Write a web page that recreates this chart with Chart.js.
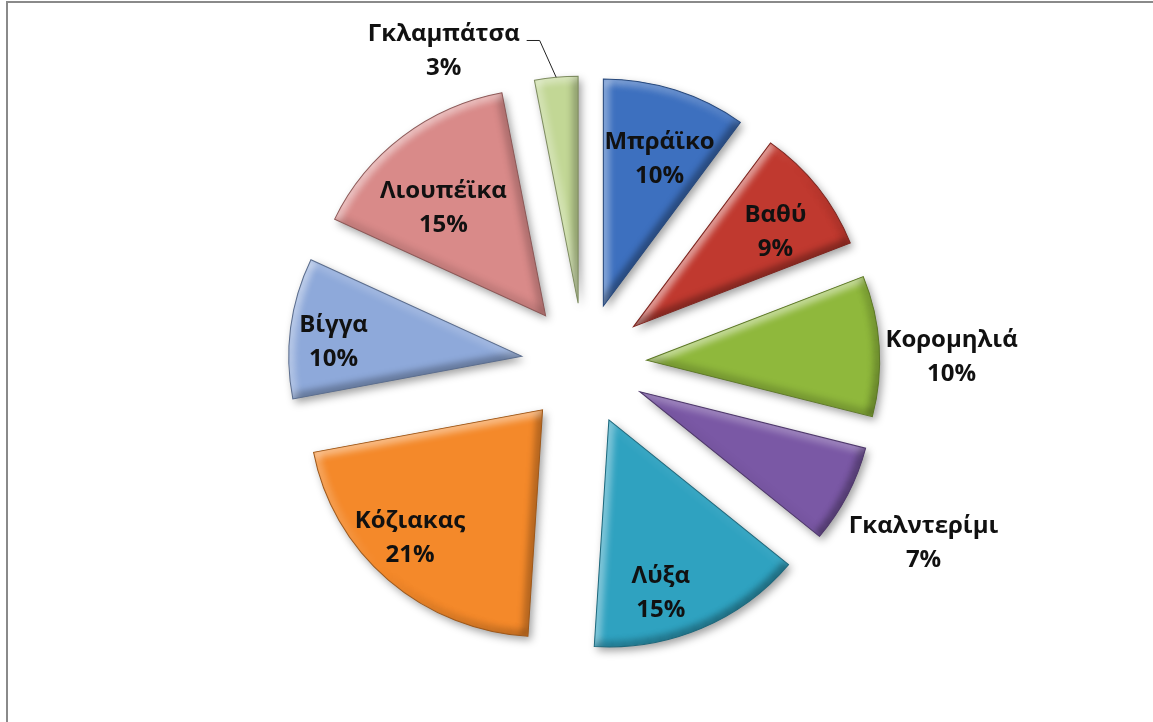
<!DOCTYPE html>
<html lang="el">
<head>
<meta charset="utf-8">
<title>Κατανομή ανά περιοχή</title>
<script src="https://cdn.jsdelivr.net/npm/chart.js@4.4.1/dist/chart.umd.min.js"></script>
<style>
  html, body { margin: 0; padding: 0; background: #fff; overflow: hidden; }
  #wrap { position: relative; width: 1153px; height: 722px; }
  #pie { position: absolute; left: 0; top: 0; }
  #frame {
    position: absolute; left: 6px; top: 1px; width: 1200px; height: 800px;
    border-top: 2px solid #8a8a8a; border-left: 2px solid #8a8a8a;
    pointer-events: none;
  }
</style>
</head>
<body>
<div id="wrap">
  <canvas id="pie" width="1153" height="722"></canvas>
  <div id="frame"></div>
</div>
<script>
// Regions and their shares (%), clockwise from 12 o'clock
const regions = ['Μπράϊκο', 'Βαθύ', 'Κορομηλιά', 'Γκαλντερίμι', 'Λύξα', 'Κόζιακας', 'Βίγγα', 'Λιουπέϊκα', 'Γκλαμπάτσα'];
const shares = [10, 9, 10, 7, 15, 21, 10, 15, 3];
const sliceColors = ['#3d70bf', '#c0392f', '#8fb83c', '#7a58a5', '#2fa2c0', '#f4892a', '#8ea9da', '#d98a89', '#c2d795'];

// Label placement per slice: [distance from wedge tip as a fraction of the radius,
// angular nudge in degrees, draw a leader line]
const labelSpots = [
  [0.70, 2.7], [0.755, 3.7], [1.344, 2.7], [1.413, 0.8], [0.787, 6.5],
  [0.808, 4.9], [0.833, -2.2], [0.66, -5.2], [1.265, -22.5, true]
];

// the whole pie is drawn slightly wider than tall
const pieStretchX = 1.027;

const { ArcElement } = Chart.elements;
const PieController = Chart.controllers.pie;

function shade(hex, amt) {
  const n = parseInt(hex.slice(1), 16);
  const t = amt < 0 ? 0 : 255, p = Math.abs(amt);
  const mix = c => Math.round(c + (t - c) * p);
  return `rgb(${mix(n >> 16 & 255)},${mix(n >> 8 & 255)},${mix(n & 255)})`;
}

// tip of a wedge after it is pulled out along its bisector
function wedgeTip(arc) {
  const { x, y, startAngle, endAngle } = arc;
  const mid = (startAngle + endAngle) / 2;
  const off = arc.options.offset || 0;
  return { mid, tx: x + Math.cos(mid) * off * pieStretchX, ty: y + Math.sin(mid) * off };
}

// Wedge pulled out along its bisector by the full offset, with a soft bevel and drop shadow
class BevelArc extends ArcElement {
  static id = 'bevelArc';

  draw(ctx) {
    const { x, y, startAngle, endAngle, outerRadius, options } = this;
    if (!(endAngle > startAngle) || outerRadius <= 0) return;
    const mid = (startAngle + endAngle) / 2;
    const off = options.offset || 0;
    const cx = x + Math.cos(mid) * off;
    const cy = y + Math.sin(mid) * off;
    const r = outerRadius;
    const base = options.backgroundColor;

    const wedge = new Path2D();
    wedge.moveTo(cx, cy);
    wedge.arc(cx, cy, r, startAngle, endAngle);
    wedge.closePath();

    ctx.save();
    ctx.translate(x, 0);
    ctx.scale(pieStretchX, 1);
    ctx.translate(-x, 0);

    ctx.save();
    ctx.shadowColor = 'rgba(0,0,0,0.38)';
    ctx.shadowBlur = 9;
    ctx.shadowOffsetX = 3;
    ctx.shadowOffsetY = 4;
    ctx.fillStyle = base;
    ctx.fill(wedge);
    ctx.restore();

    // bevel: edges facing the upper-left light are brightened, the others darkened
    ctx.save();
    ctx.clip(wedge);
    ctx.filter = 'blur(3px)';
    ctx.lineWidth = 12;
    ctx.lineCap = 'butt';
    const light = -3 * Math.PI / 4;
    const edge = (normal, build) => {
      const k = Math.cos(normal - light);
      ctx.strokeStyle = k >= 0 ? `rgba(255,255,255,${0.5 * k})` : `rgba(0,0,0,${0.34 * -k})`;
      ctx.beginPath();
      build();
      ctx.stroke();
    };
    edge(startAngle - Math.PI / 2, () => {
      ctx.moveTo(cx, cy);
      ctx.lineTo(cx + Math.cos(startAngle) * r, cy + Math.sin(startAngle) * r);
    });
    edge(endAngle + Math.PI / 2, () => {
      ctx.moveTo(cx, cy);
      ctx.lineTo(cx + Math.cos(endAngle) * r, cy + Math.sin(endAngle) * r);
    });
    const steps = Math.max(2, Math.ceil((endAngle - startAngle) / (Math.PI / 60)));
    for (let s = 0; s < steps; s++) {
      const a0 = startAngle + (endAngle - startAngle) * s / steps;
      const a1 = startAngle + (endAngle - startAngle) * (s + 1) / steps;
      edge((a0 + a1) / 2, () => ctx.arc(cx, cy, r, a0, a1));
    }
    ctx.restore();

    ctx.lineWidth = 1;
    ctx.strokeStyle = shade(base, -0.35);
    ctx.stroke(wedge);
    ctx.restore();
  }
}

class ExplodedPieController extends PieController {
  static id = 'explodedPie';
  static defaults = { dataElementType: 'bevelArc' };
}

Chart.register(BevelArc, ExplodedPieController);

// Two-line labels: region name and its percentage
const sliceLabels = {
  id: 'sliceLabels',
  afterDatasetsDraw(chart, args, opts) {
    const ctx = chart.ctx;
    const meta = chart.getDatasetMeta(0);
    const total = shares.reduce((a, b) => a + b, 0);
    ctx.save();
    ctx.font = `bold ${opts.size}px ${opts.family}`;
    ctx.fillStyle = opts.color;
    ctx.textAlign = 'center';
    ctx.textBaseline = 'middle';
    meta.data.forEach((arc, i) => {
      const { outerRadius } = arc;
      const { mid, tx, ty } = wedgeTip(arc);
      const [f, nudge, leader] = labelSpots[i];
      const a = mid + nudge * Math.PI / 180;
      const lx = tx + Math.cos(a) * outerRadius * f;
      const ly = ty + Math.sin(a) * outerRadius * f + opts.drop;
      const pct = Math.round(shares[i] / total * 100) + '%';
      ctx.fillText(regions[i], lx, ly - opts.gap / 2);
      ctx.fillText(pct, lx, ly + opts.gap / 2);
      if (leader) {
        const right = lx + ctx.measureText(regions[i]).width / 2;
        const ey = ly - opts.gap / 2 + 6;
        ctx.save();
        ctx.strokeStyle = '#222';
        ctx.lineWidth = 1;
        ctx.beginPath();
        ctx.moveTo(tx + Math.cos(mid) * outerRadius * pieStretchX, ty + Math.sin(mid) * outerRadius);
        ctx.lineTo(right + 20, ey);
        ctx.lineTo(right + 7, ey);
        ctx.stroke();
        ctx.restore();
      }
    });
    ctx.restore();
  }
};

new Chart(document.getElementById('pie'), {
  type: 'explodedPie',
  data: {
    labels: regions,
    datasets: [{
      data: shares,
      backgroundColor: sliceColors,
      borderWidth: 0,
      offset: 61,
      hoverOffset: 0
    }]
  },
  options: {
    responsive: false,
    animation: false,
    events: [],
    radius: 227,
    layout: { padding: { left: 15, top: 6, right: 0, bottom: 0 } },
    plugins: {
      legend: { display: false },
      tooltip: { enabled: false },
      sliceLabels: { family: '"Open Sans", sans-serif', size: 24, gap: 34, drop: 2, color: '#111' }
    }
  },
  plugins: [sliceLabels]
});
</script>
</body>
</html>
